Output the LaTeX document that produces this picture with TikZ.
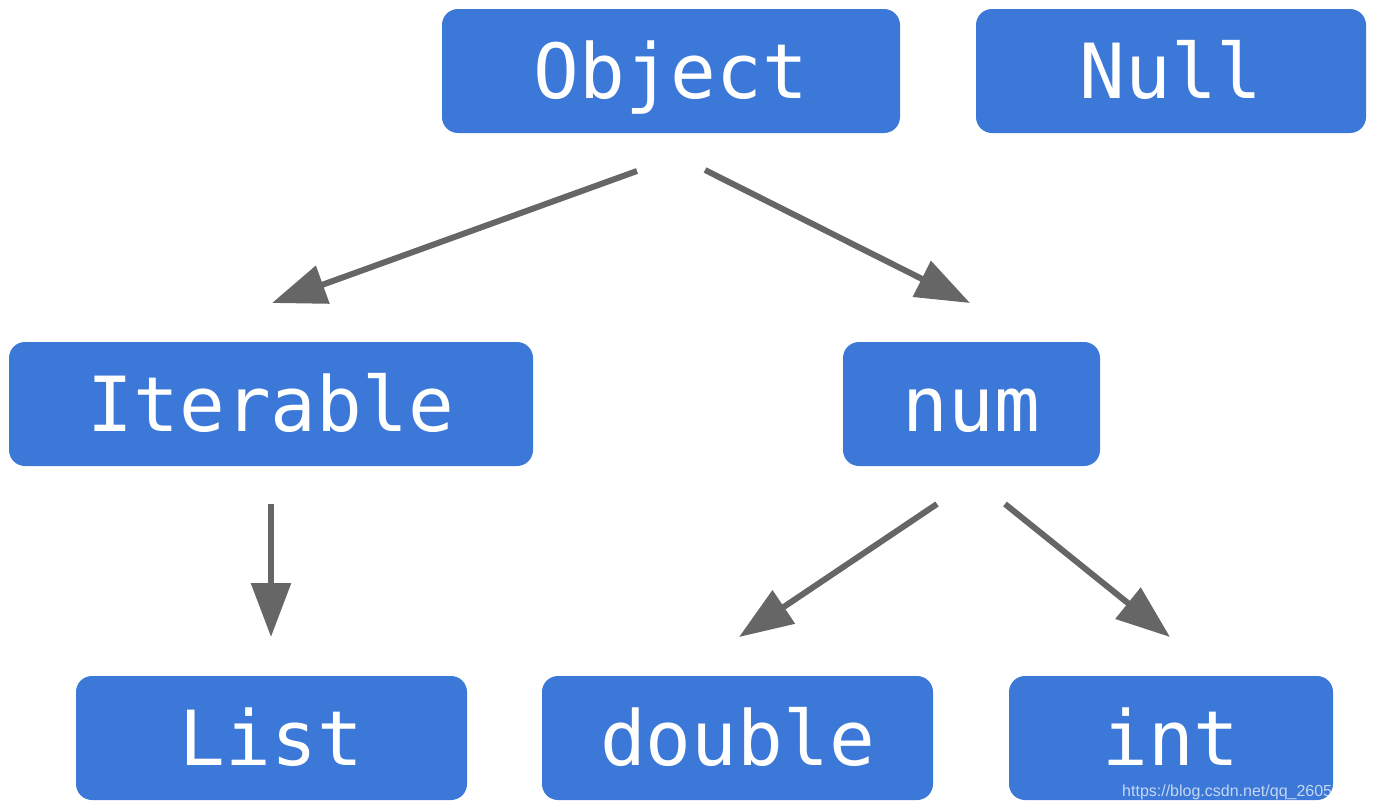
\documentclass[tikz,border=0pt]{standalone}
\usepackage{fontspec}
\setmainfont{Liberation Sans}
\newfontfamily\codefont{DejaVu Sans Mono}
\usetikzlibrary{arrows.meta}
\definecolor{boxblue}{HTML}{3C78D8}
\definecolor{arrowgray}{HTML}{666666}
\tikzset{
  typebox/.style={fill=boxblue, rounded corners=16pt, draw=none, text=white,
    inner sep=0pt, minimum height=124pt, text height=55pt, text depth=0pt,
    font=\codefont\fontsize{76}{80}\selectfont},
  link/.style={draw=arrowgray, line width=6pt,
    -{Triangle[length=54pt, width=39pt]}}
}
\begin{document}
\begin{tikzpicture}[x=1pt, y=-1pt]
\useasboundingbox (0,0) rectangle (1376,809);
\node[typebox, minimum width=458pt] (object) at (671,71) {Object};
\node[typebox, minimum width=390pt] (null) at (1171,71) {Null};
\node[typebox, minimum width=524pt] (iterable) at (271,404) {Iterable};
\node[typebox, minimum width=257pt] (num) at (971.5,404) {num};
\node[typebox, minimum width=391pt] (list) at (271.5,738) {List};
\node[typebox, minimum width=391pt] (double) at (737.5,738) {double};
\node[typebox, minimum width=324pt] (int) at (1171,738) {int};
% connector end points (gaps between boxes and arrows)
\coordinate (oa) at (637,171);
\coordinate (ia) at (272,303);
\coordinate (ob) at (705,170);
\coordinate (nb) at (970,303);
\coordinate (ic) at (271,504);
\coordinate (lc) at (271,637);
\coordinate (nd) at (937,504);
\coordinate (dd) at (739,637);
\coordinate (ne) at (1005,504);
\coordinate (ie) at (1170,637);
\draw[link] (oa) -- (ia);
\draw[link] (ob) -- (nb);
\draw[link] (ic) -- (lc);
\draw[link] (nd) -- (dd);
\draw[link] (ne) -- (ie);
\node[anchor=base west, inner sep=0pt, text=white, text opacity=0.7,
  font=\fontsize{16}{17}\selectfont] (mark) at (1122,796) {https://blog.csdn.net/qq\_26057};
\end{tikzpicture}
\end{document}
